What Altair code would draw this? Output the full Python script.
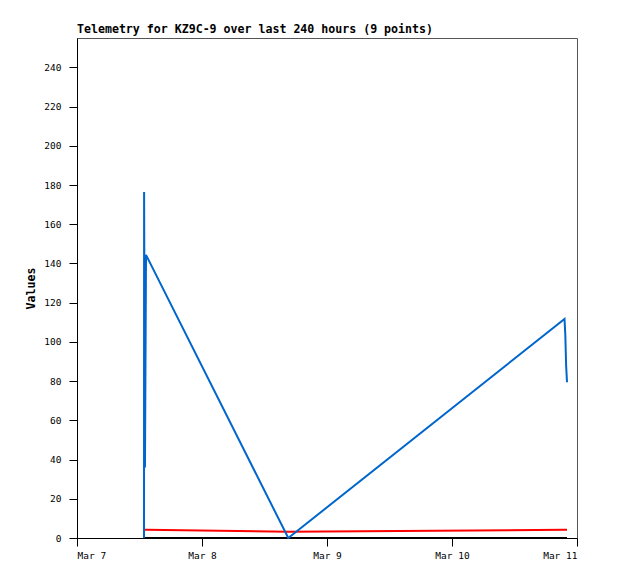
import altair as alt
import pandas as pd

# Data
times = [
    "2024-03-07T12:52:00Z", "2024-03-07T12:53:00Z", "2024-03-07T13:03:00Z",
    "2024-03-07T13:15:00Z", "2024-03-08T16:34:00Z", "2024-03-10T21:36:00Z",
    "2024-03-10T21:45:00Z", "2024-03-10T21:55:00Z", "2024-03-10T22:05:00Z",
]
blue_vals = [0, 176.5, 36, 144.4, 0, 111.7, 104, 87.7, 79.4]
red_vals = [4.2, 4.2, 4.2, 4.2, 3.2, 4.2, 4.2, 4.2, 4.2]
black_vals = [0, 0, 0, 0, 0, 0, 0, 0, 0]
y_ticks = [0, 20, 40, 60, 80, 100, 120, 140, 160, 180, 200, 220, 240]
x_days = [7, 8, 9, 10, 11]

df = pd.DataFrame({"t": times, "blue": blue_vals, "red": red_vals, "black": black_vals})

MONO = "DejaVu Sans Mono"

x_enc = alt.X(
    "t:T",
    scale=alt.Scale(
        type="utc",
        domain=[alt.DateTime(year=2024, month=3, date=7, utc=True),
                alt.DateTime(year=2024, month=3, date=11, utc=True)],
    ),
    axis=alt.Axis(
        title=None,
        values=[alt.DateTime(year=2024, month=3, date=d, utc=True) for d in x_days],
        labelExpr="utcFormat(datum.value, '%b %-d')",
        grid=False,
        tickSize=8,
        labelPadding=4,
        labelFont=MONO,
        labelFontSize=9.5,
        labelColor="#000",
        tickColor="#000",
        domainColor="#000",
    ),
)

y_scale = alt.Scale(domain=[0, 255], nice=False)
y_axis = alt.Axis(
    title="Values",
    values=y_ticks,
    grid=False,
    tickSize=8,
    labelPadding=8,
    labelFont=MONO,
    labelFontSize=9.5,
    labelColor="#000",
    tickColor="#000",
    domainColor="#000",
    titleFont=MONO,
    titleFontSize=11.6,
    titleFontWeight="bold",
    titleColor="#000",
    titleX=-46,
    titleY=250,
    titleAngle=270,
    titleAlign="center",
    titleBaseline="middle",
)

base = alt.Chart(df)
black_line = base.mark_line(color="#000000", strokeWidth=2).encode(
    x=x_enc, y=alt.Y("black:Q", scale=y_scale, axis=y_axis))
red_line = base.mark_line(color="#ff0000", strokeWidth=2).encode(
    x=x_enc, y=alt.Y("red:Q", scale=y_scale, axis=y_axis))
blue_line = base.mark_line(color="#0066cc", strokeWidth=2).encode(
    x=x_enc, y=alt.Y("blue:Q", scale=y_scale, axis=y_axis))

chart = (
    alt.layer(black_line, red_line, blue_line)
    .properties(
        width=500,
        height=500,
        title=alt.TitleParams(
            "Telemetry for KZ9C-9 over last 240 hours (9 points)",
            anchor="start",
            frame="group",
            font=MONO,
            fontSize=11.6,
            fontWeight="bold",
            color="#000",
            offset=2,
        ),
        autosize=alt.AutoSizeParams(type="none"),
        padding={"left": 69, "top": 30, "right": 30, "bottom": 30},
    )
    .configure_view(stroke="#555555", strokeWidth=1)
)

chart.save("out.html", embed_options={"renderer": "svg", "actions": False})
